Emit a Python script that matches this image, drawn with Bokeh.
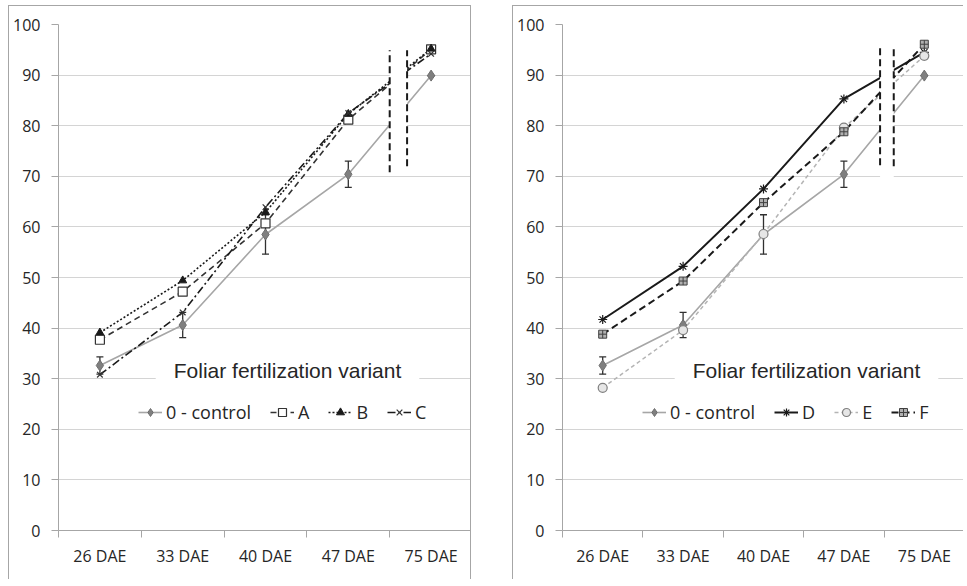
from bokeh.plotting import figure
from bokeh.models import (FactorRange, Range1d, LinearAxis, CategoricalAxis, FixedTicker,
                          SingleIntervalTicker, Legend, LegendItem, Label,
                          Whisker, TeeHead, ColumnDataSource, Spacer)
from bokeh.layouts import row, column
from bokeh.embed import file_html
from bokeh.resources import INLINE

# ---------------- data ----------------
categories = ["26 DAE", "33 DAE", "40 DAE", "47 DAE", "75 DAE"]
control_label = "0 - control"
control = [32.6, 40.6, 58.5, 70.4, 89.9]
control_err = [1.7, 2.5, 3.9, 2.6, 0.0]
var_a = [37.7, 47.2, 60.7, 81.2, 95.1]
var_b = [39.1, 49.4, 62.9, 82.3, 95.2]
var_c = [30.8, 43.1, 63.9, 82.5, 94.2]
var_d = [41.7, 52.2, 67.5, 85.3, 94.5]
var_e = [28.2, 39.6, 58.6, 79.6, 93.8]
var_f = [38.8, 49.3, 64.8, 78.8, 96.1]
legend_title = "Foliar fertilization variant"

TEXT = "#262626"
AXIS = "#a6a6a6"
GRID = "#d4d4d4"
TICK_FONT = "Open Sans"
BORDER = "1px solid #a6a6a6"


def base_figure(width, styles):
    p = figure(width=width, height=574, x_range=FactorRange(factors=categories),
               y_range=Range1d(0, 100), x_axis_location=None,
               output_backend="svg", toolbar_location=None,
               min_border_left=49, min_border_right=0, min_border_top=18, min_border_bottom=50)
    p.styles = styles
    p.outline_line_color = None
    p.background_fill_color = "white"
    p.border_fill_color = "white"
    ax = p.yaxis[0]
    ax.ticker = SingleIntervalTicker(interval=10, num_minor_ticks=0)
    ax.axis_line_color = AXIS
    ax.major_tick_line_color = AXIS
    ax.major_tick_out = 7
    ax.major_tick_in = 0
    ax.minor_tick_line_color = None
    ax.major_label_standoff = 11
    ax.major_label_text_font = TICK_FONT
    ax.major_label_text_font_size = "16px"
    ax.major_label_text_color = TEXT
    p.ygrid.grid_line_color = GRID
    for g in p.xgrid:
        g.visible = False

    n = len(categories)
    # tick marks on the category boundaries (synthetic coordinates 0..n of the factor range)
    tick_axis = LinearAxis(ticker=FixedTicker(ticks=list(range(n + 1))),
                           major_tick_out=7, major_tick_in=0, major_tick_line_color=AXIS,
                           axis_line_color=AXIS, minor_tick_line_color=None,
                           major_label_text_font_size="0px", major_label_standoff=0,
                           major_label_overrides={i: "" for i in range(n + 1)})
    cat_axis = CategoricalAxis(axis_line_color=None, major_tick_line_color=None,
                               major_tick_out=0, major_tick_in=0, major_label_standoff=7,
                               major_label_text_font=TICK_FONT, major_label_text_font_size="16px",
                               major_label_text_color=TEXT)
    p.add_layout(tick_axis, "below")
    p.add_layout(cat_axis, "below")
    return p


def draw_panel(p, series, brk, title_x):
    line_rs = []
    for label, vals, lkw, mkw in series:
        src = ColumnDataSource(dict(x=categories, y=vals))
        lr = p.line("x", "y", source=src, **lkw)
        line_rs.append((label, lr, src, mkw))

    # axis break (white gap + dashed marks)
    (x_left, x_right, gap_bottom, gap_top, seg_bottoms, seg_top) = brk
    p.quad(left=[x_left], right=[x_right], bottom=[gap_bottom], top=[gap_top],
           fill_color="white", line_color=None)
    p.segment(x0=[x_left, x_right], x1=[x_left, x_right], y0=seg_bottoms, y1=[seg_top, seg_top],
              line_color="#1a1a1a", line_width=2, line_dash="7 4")

    # error bars of the control
    wsrc = ColumnDataSource(dict(base=categories,
                                 upper=[v + e for v, e in zip(control, control_err)],
                                 lower=[v - e for v, e in zip(control, control_err)]))
    wh = Whisker(base="base", upper="upper", lower="lower", source=wsrc,
                 line_color="#303030", line_width=1.3,
                 upper_head=TeeHead(size=7, line_color="#303030", line_width=1.3),
                 lower_head=TeeHead(size=7, line_color="#303030", line_width=1.3))
    p.add_layout(wh)

    items = []
    for label, lr, src, mkw in line_rs:
        mr = p.scatter("x", "y", source=src, **mkw)
        items.append(LegendItem(label=label, renderers=[lr, mr]))

    legend = Legend(items=items, orientation="horizontal", location=(80, 106),
                    padding=0, margin=0, spacing=19, glyph_width=24, glyph_height=20,
                    label_standoff=4, label_width=0, background_fill_alpha=0,
                    border_line_color=None,
                    label_text_font=TICK_FONT, label_text_font_size="18px",
                    label_text_color=TEXT)
    p.add_layout(legend)

    title = Label(x=title_x, y=160, x_units="screen", y_units="screen", text=legend_title,
                  text_font="Liberation Sans", text_font_size="21px", text_color=TEXT,
                  text_align="center", text_baseline="middle",
                  background_fill_color="white", padding=18)
    p.add_layout(title)


control_line = dict(line_color="#a6a6a6", line_width=1.6)
control_mark = dict(marker="diamond", size=11, fill_color="#7f7f7f", line_color="#6f6f6f")

# ---------------- left panel ----------------
p1 = base_figure(463, {"border-top": BORDER, "border-left": BORDER, "border-right": BORDER})
left_series = [
    (control_label, control, control_line, control_mark),
    ("A", var_a, dict(line_color="#333333", line_width=1.6, line_dash="6 4"),
     dict(marker="square", size=9, fill_color="white", line_color="#333333", line_width=1.2)),
    ("B", var_b, dict(line_color="#1a1a1a", line_width=1.6, line_dash="2 2"),
     dict(marker="triangle", size=8, fill_color="#1a1a1a", line_color="#1a1a1a")),
    ("C", var_c, dict(line_color="#1a1a1a", line_width=1.6, line_dash="8 3 2 3"),
     dict(marker="x", size=8, line_color="#333333", line_width=1.2)),
]
draw_panel(p1, left_series,
           (("47 DAE", 0.5), ("75 DAE", -0.29), 71, 95, [70.8, 72.0], 94.9),
           229)

# ---------------- right panel ----------------
p2 = base_figure(451, {"border-top": BORDER, "border-left": BORDER})
right_series = [
    (control_label, control, control_line, control_mark),
    ("D", var_d, dict(line_color="#1a1a1a", line_width=2),
     dict(marker="asterisk", size=9, line_color="#1a1a1a", line_width=1.2)),
    ("E", var_e, dict(line_color="#b4b4b4", line_width=1.5, line_dash="4 3"),
     dict(marker="circle", size=9, fill_color="#e6e6e6", line_color="#7f7f7f", line_width=1.2)),
    ("F", var_f, dict(line_color="#1a1a1a", line_width=2, line_dash="7 4"),
     dict(marker="square_cross", size=8, fill_color="#b0b0b0", line_color="#404040", line_width=1)),
]
draw_panel(p2, right_series,
           (("47 DAE", 0.45), ("75 DAE", -0.38), 69.6, 95.3, [72.2, 72.0], 95.3),
           244)

layout = column(Spacer(width=10, height=5),
                row(Spacer(width=8, height=10), p1, Spacer(width=41, height=10), p2))
open("out.html", "w").write(file_html(layout, INLINE))
